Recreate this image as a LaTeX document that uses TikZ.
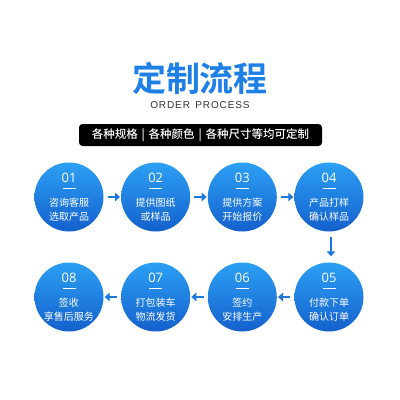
\documentclass[tikz,border=0pt]{standalone}
\usepackage{fontspec}
\setmainfont{Liberation Sans}
\newfontfamily\cjk{Noto Sans CJK SC}
\newfontfamily\cjkm{Noto Sans CJK SC Medium}
\newfontfamily\cjkb{Noto Sans CJK SC Bold}
\newfontfamily\numfont{Open Sans}
\usetikzlibrary{arrows.meta}
\definecolor{bluetop}{RGB}{44,160,244}
\definecolor{bluebot}{RGB}{20,96,204}
\definecolor{titleblue}{RGB}{30,128,230}
\definecolor{arrblue}{RGB}{28,120,220}
\tikzset{
  stepcirc/.style={circle, minimum size=69pt, inner sep=0pt, top color=bluetop, bottom color=bluebot, draw=none},
  flowarrow/.style={draw=arrblue, line width=2.8pt, -{Triangle[length=5pt,width=8.5pt]}},
}
\newcommand{\stepcontent}[4]{%
  \node[text=white, font=\numfont\fontsize{13}{15}\selectfont] at ([yshift=19pt]#1.center) {#2};
  \draw[white, line width=0.9pt] ([xshift=-6.5pt,yshift=9pt]#1.center) -- ([xshift=6.5pt,yshift=9pt]#1.center);
  \node[text=white, font=\cjk\fontsize{10}{12}\selectfont, align=center] at ([yshift=-6pt]#1.center) {#3};
  \node[text=white, font=\cjk\fontsize{10}{12}\selectfont, align=center] at ([yshift=-19.5pt]#1.center) {#4};
}
\begin{document}
\begin{tikzpicture}[x=1pt,y=-1pt]
\useasboundingbox[fill=white] (0,0) rectangle (400,400);
% title
\node[text=titleblue, font=\cjkb\fontsize{34}{38}\selectfont] (title) at (200,78) {定制流程};
\node[text=black!80, font=\fontsize{10}{12}\selectfont\addfontfeature{LetterSpace=9}] (sub) at (200,105) {ORDER \,PROCESS};
% black bar
\node[fill=black, rounded corners=3.5pt, minimum width=243pt, minimum height=22pt, inner sep=0pt,
      text=white, font=\cjkm\fontsize{11.5}{13}\selectfont] (bar) at (200.5,135) {各种规格\,\,|\,\,各种颜色\,\,|\,\,各种尺寸等均可定制};
% circles
\node[stepcirc] (c1) at (69,197) {};
\node[stepcirc] (c2) at (155.7,197) {};
\node[stepcirc] (c3) at (242.3,197) {};
\node[stepcirc] (c4) at (329,197) {};
\node[stepcirc] (c5) at (329,297) {};
\node[stepcirc] (c6) at (242.3,297) {};
\node[stepcirc] (c7) at (155.7,297) {};
\node[stepcirc] (c8) at (69,297) {};
\stepcontent{c1}{01}{咨询客服}{选取产品}
\stepcontent{c2}{02}{提供图纸}{或样品}
\stepcontent{c3}{03}{提供方案}{开始报价}
\stepcontent{c4}{04}{产品打样}{确认样品}
\stepcontent{c5}{05}{付款下单}{确认订单}
\stepcontent{c6}{06}{签约}{安排生产}
\stepcontent{c7}{07}{打包装车}{物流发货}
\stepcontent{c8}{08}{签收}{享售后服务}
% arrows
\draw[flowarrow] ([xshift=4pt]c1.east) -- ([xshift=-1pt]c2.west);
\draw[flowarrow] ([xshift=4pt]c2.east) -- ([xshift=-1pt]c3.west);
\draw[flowarrow] ([xshift=4pt]c3.east) -- ([xshift=-1pt]c4.west);
\draw[flowarrow] ([xshift=2pt,yshift=-5pt]c4.south) -- ([xshift=2pt,yshift=6pt]c5.north);
\draw[flowarrow] ([xshift=-4pt]c5.west) -- ([xshift=1pt]c6.east);
\draw[flowarrow] ([xshift=-4pt]c6.west) -- ([xshift=1pt]c7.east);
\draw[flowarrow] ([xshift=-4pt]c7.west) -- ([xshift=1pt]c8.east);
\end{tikzpicture}
\end{document}
